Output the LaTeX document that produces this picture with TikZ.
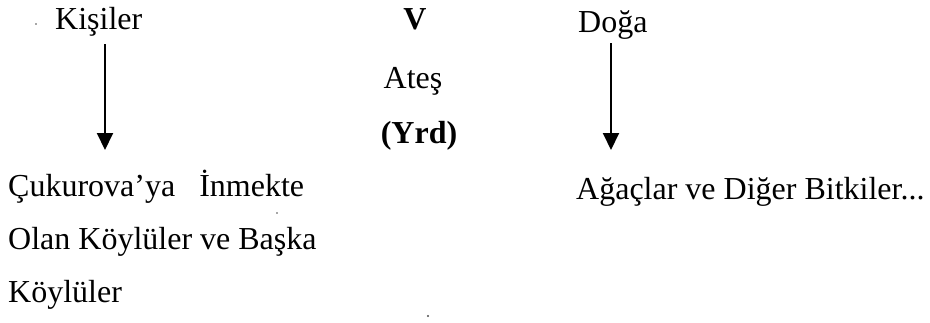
\documentclass[tikz,border=0pt]{standalone}
\usepackage{fontspec}
\setmainfont{Liberation Serif}
\usetikzlibrary{arrows.meta}
\begin{document}
\begin{tikzpicture}[x=1pt,y=-1pt,
  lbl/.style={anchor=base west, inner sep=0pt, font=\fontsize{32}{38}\selectfont},
  arr/.style={line width=2pt, -{Triangle[length=17pt,width=16pt]}},
  speck/.style={fill=black!70}]
\useasboundingbox (0,0) rectangle (930,322);
\node[lbl] (kisiler) at (55,29) {Kişiler};
\node[lbl, anchor=base] (v) at (415,29) {\textbf{V}};
\node[lbl, anchor=base] (ates) at (413,88) {Ateş};
\node[lbl, anchor=base] (yrd) at (419,143) {\textbf{(Yrd)}};
\node[lbl] (doga) at (578,32) {Doğa};
\node[lbl] (l1) at (8,196) {Çukurova’ya\ \ \ İnmekte};
\node[lbl] (l2) at (8,249) {Olan Köylüler ve Başka};
\node[lbl] (l3) at (8,302) {Köylüler};
\node[lbl] (agac) at (576,199) {Ağaçlar ve Diğer Bitkiler...};
\coordinate (a1s) at (105,44);
\coordinate (a1e) at (105,150);
\coordinate (a2s) at (611,43);
\coordinate (a2e) at (611,150);
\draw[arr] (a1s) -- (a1e);
\draw[arr] (a2s) -- (a2e);
\fill[speck] (36,24) circle (0.9);
\fill[speck] (277,213) circle (0.9);
\fill[speck] (428,316) circle (1.1);
\end{tikzpicture}
\end{document}
